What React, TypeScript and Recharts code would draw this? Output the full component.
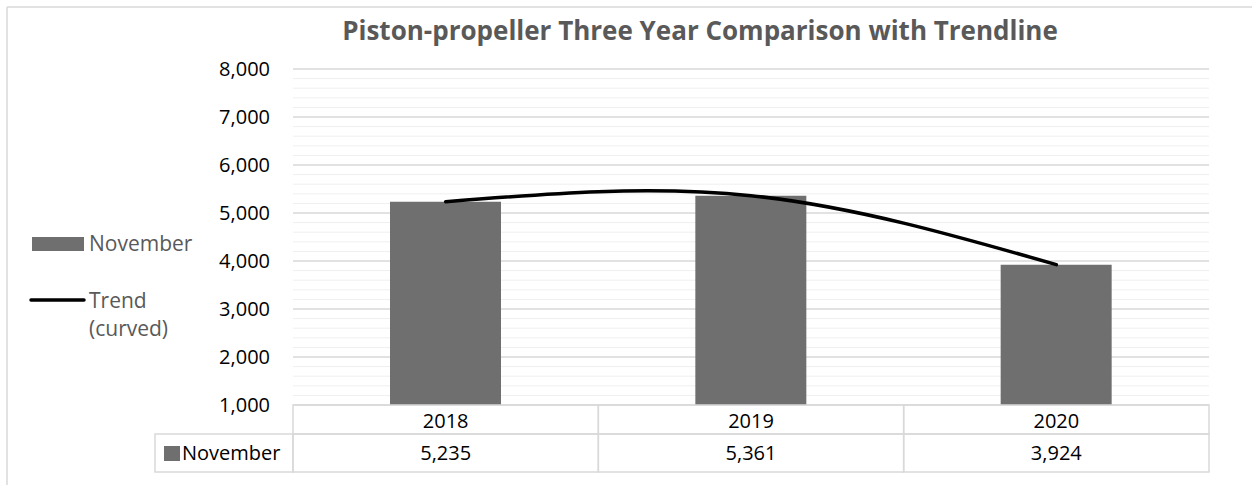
import React from 'react';
import { ComposedChart, Bar, Line, XAxis, YAxis, CartesianGrid } from 'recharts';

// Chart data
const YEARS = ['2018', '2019', '2020'];
const NOVEMBER = [5235, 5361, 3924];
const SERIES_NAME = 'November';
const TREND_LABEL = ['Trend', '(curved)'];
const TITLE = 'Piston-propeller Three Year Comparison with Trendline';

// Axis ticks
const Y_TICKS = [1000, 2000, 3000, 4000, 5000, 6000, 7000, 8000];
const Y_MINOR = [
  1200, 1400, 1600, 1800, 2200, 2400, 2600, 2800, 3200, 3400, 3600, 3800,
  4200, 4400, 4600, 4800, 5200, 5400, 5600, 5800, 6200, 6400, 6600, 6800,
  7200, 7400, 7600, 7800,
];

const data = YEARS.map((year, i) => ({ year, november: NOVEMBER[i] }));

// Layout
const W = 1252;
const H = 485;
const MARGIN = { top: 69, right: 43, bottom: 13, left: 193 };
const Y_AXIS_W = 100;
const X_AXIS_H = 67;
const PLOT_W = W - MARGIN.left - MARGIN.right - Y_AXIS_W;
const BAND = PLOT_W / YEARS.length;
const HEADER_W = 138;
const ROW1_H = 29;
const ROW2_H = 38;

const FONT = '"Open Sans", "Noto Sans", sans-serif';
const BAR_COLOR = '#6f6f6f';
const BORDER = '#d9d9d9';
const fmt = (v: number) => v.toLocaleString('en-US');

// X axis tick drawn as a data-table column: category row + value row
function TableTick(props: any) {
  const { x, y, payload } = props;
  const i = YEARS.indexOf(String(payload.value));
  const left = x - BAND / 2;
  return (
    <g>
      <rect x={left} y={y} width={BAND} height={ROW1_H} fill="none" stroke={BORDER} strokeWidth={1.5} />
      <rect x={left} y={y + ROW1_H} width={BAND} height={ROW2_H} fill="none" stroke={BORDER} strokeWidth={1.5} />
      <text x={x} y={y + 22.5} textAnchor="middle" fontSize={20} fill="#000" fontFamily={FONT}>
        {payload.value}
      </text>
      <text x={x} y={y + 55} textAnchor="middle" fontSize={20} fill="#000" fontFamily={FONT}>
        {fmt(NOVEMBER[i])}
      </text>
      {i === 0 && (
        <g>
          <rect x={left - HEADER_W} y={y + ROW1_H} width={HEADER_W} height={ROW2_H} fill="none" stroke={BORDER} strokeWidth={1.5} />
          <rect x={left - HEADER_W + 9} y={y + ROW1_H + 12} width={16} height={15} fill={BAR_COLOR} />
          <text x={left - HEADER_W + 27} y={y + 55} fontSize={20} fill="#000" fontFamily={FONT}>
            {SERIES_NAME}
          </text>
        </g>
      )}
    </g>
  );
}

export default function App() {
  return (
    <div style={{ position: 'absolute', left: 0, top: 0, width: W, height: H, background: '#fff', fontFamily: FONT }}>
      <ComposedChart width={W} height={H} data={data} margin={MARGIN}>
        <CartesianGrid horizontal vertical={false} horizontalValues={Y_MINOR} stroke="#efefef" strokeWidth={1} />
        <CartesianGrid horizontal vertical={false} horizontalValues={Y_TICKS} stroke={BORDER} strokeWidth={1.4} />
        <XAxis
          dataKey="year"
          height={X_AXIS_H}
          axisLine={false}
          tickLine={false}
          tickSize={0}
          tickMargin={0}
          interval={0}
          tick={<TableTick />}
        />
        <YAxis
          type="number"
          domain={[1000, 8000]}
          ticks={Y_TICKS}
          interval={0}
          width={Y_AXIS_W}
          axisLine={false}
          tickLine={false}
          tickSize={0}
          tickMargin={23}
          tickFormatter={fmt}
          tick={{ fill: '#000', fontSize: 20, fontFamily: FONT }}
        />
        <Bar dataKey="november" name={SERIES_NAME} fill={BAR_COLOR} barSize={111} isAnimationActive={false} />
        <Line
          type="natural"
          dataKey="november"
          name="Trend (curved)"
          stroke="#000"
          strokeWidth={3.5}
          strokeLinecap="round"
          dot={false}
          activeDot={false}
          legendType="none"
          isAnimationActive={false}
        />
      </ComposedChart>
      <svg
        width={W}
        height={H}
        style={{ position: 'absolute', left: 0, top: 0, pointerEvents: 'none' }}
      >
        {/* chart frame */}
        <line x1={7} y1={7} x2={W} y2={7} stroke={BORDER} strokeWidth={1.5} />
        <line x1={7} y1={7} x2={7} y2={H} stroke={BORDER} strokeWidth={1.5} />
        {/* title */}
        <text x={700} y={40} textAnchor="middle" fontSize={26} fontWeight={700} fill="#595959" fontFamily={FONT}>
          {TITLE}
        </text>
        {/* legend */}
        <rect x={32} y={237} width={52} height={14} fill={BAR_COLOR} />
        <text x={89} y={251} fontSize={21} fill="#595959" fontFamily={FONT}>{SERIES_NAME}</text>
        <line x1={31} y1={300} x2={84} y2={300} stroke="#000" strokeWidth={3.5} strokeLinecap="round" />
        <text x={89} y={308} fontSize={21} fill="#595959" fontFamily={FONT}>{TREND_LABEL[0]}</text>
        <text x={89} y={336} fontSize={21} fill="#595959" fontFamily={FONT}>{TREND_LABEL[1]}</text>
      </svg>
    </div>
  );
}
